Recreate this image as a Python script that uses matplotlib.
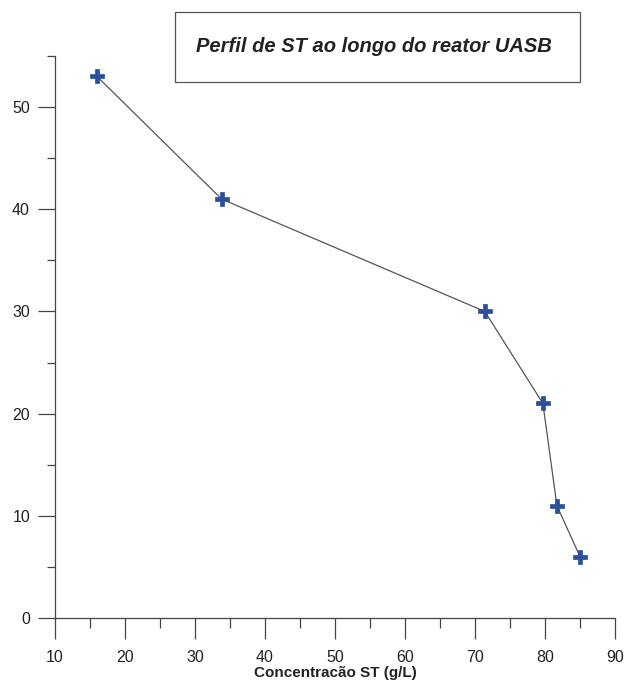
import matplotlib
matplotlib.use("Agg")
import matplotlib.pyplot as plt
from matplotlib.patches import Rectangle
from matplotlib.ticker import MultipleLocator

conc = [16.0, 33.8, 71.4, 79.7, 81.7, 85.0]
height = [53, 41, 30, 21, 11, 6]
title = "Perfil de ST ao longo do reator UASB"
xlabel = "Concentracão ST (g/L)"

plt.rcParams['font.family'] = ['Liberation Sans', 'DejaVu Sans']

W, H = 627, 683
fig = plt.figure(figsize=(W/100, H/100), dpi=100)
ax = fig.add_axes([55/W, (H-618)/H, (615-55)/W, (618-56)/H])
ax.plot(conc, height, color='#555555', lw=0.9, marker='P', markersize=10,
        markerfacecolor='#2a4f9c', markeredgecolor='#2a4f9c', markeredgewidth=0.5)
ax.set_xlim(10, 90)
ax.set_ylim(0, 55)
ax.xaxis.set_major_locator(MultipleLocator(10))
ax.xaxis.set_minor_locator(MultipleLocator(5))
ax.yaxis.set_major_locator(MultipleLocator(10))
ax.yaxis.set_minor_locator(MultipleLocator(5))
for s in ['top', 'right']:
    ax.spines[s].set_visible(False)
for s in ['left', 'bottom']:
    ax.spines[s].set_color('#444444')
    ax.spines[s].set_linewidth(0.9)
ax.tick_params(axis='x', which='major', direction='out', length=15, width=0.9, color='#444444',
               labelsize=11.5, labelcolor='#222222', pad=8)
ax.tick_params(axis='x', which='minor', direction='out', length=7, width=0.9, color='#444444')
ax.tick_params(axis='y', which='major', direction='out', length=12, width=0.9, color='#444444',
               labelsize=11.5, labelcolor='#222222', pad=6)
ax.tick_params(axis='y', which='minor', direction='out', length=6, width=0.9, color='#444444')
ax.set_xlabel(xlabel, fontsize=11, fontweight='bold', color='#222222', labelpad=1)

fig.patches.append(Rectangle((175/W, (H-82)/H), 405/W, 70/H, transform=fig.transFigure,
                             fill=False, edgecolor='#555555', lw=0.9))
fig.text(374/W, (H-47)/H, title, ha='center', va='center', fontsize=14.5,
         fontweight='bold', fontstyle='italic', color='#222222')

fig.savefig('out.png', dpi=100)
